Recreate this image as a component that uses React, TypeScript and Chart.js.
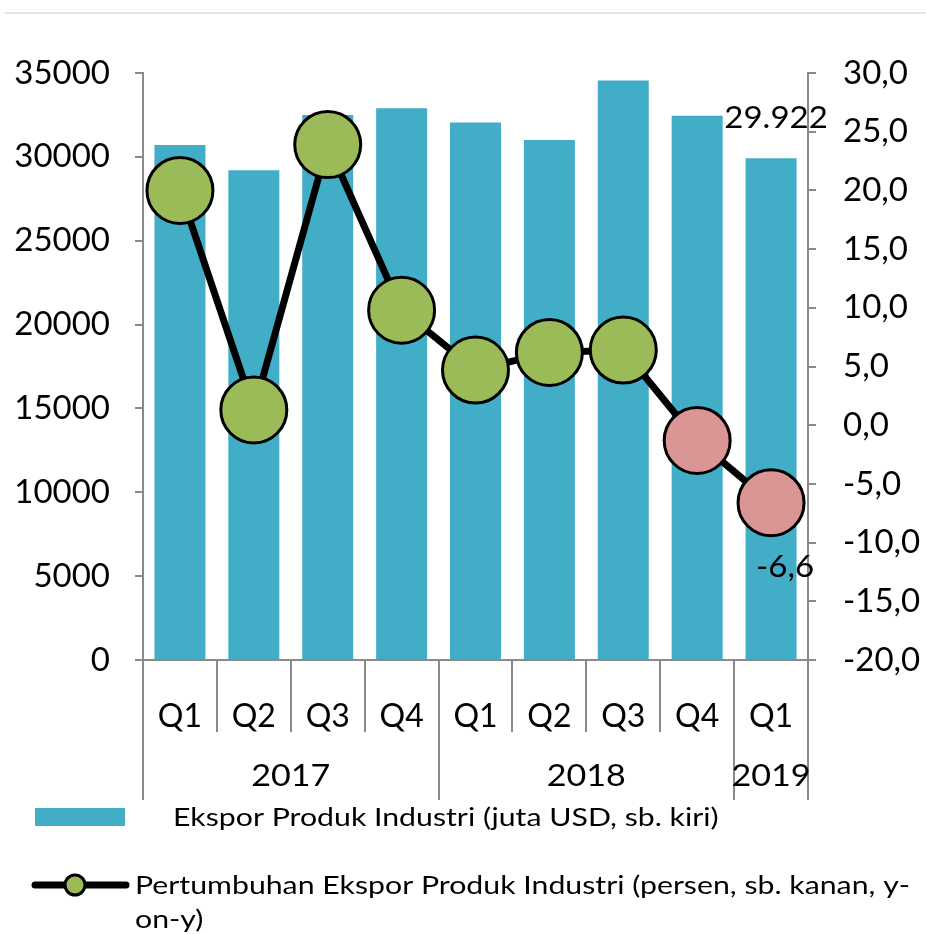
import React, { useEffect, useRef } from "react";
import { Chart, registerables } from "chart.js";

Chart.register(...registerables);

const quarters = ["Q1", "Q2", "Q3", "Q4", "Q1", "Q2", "Q3", "Q4", "Q1"];
const years = ["2017", "2018", "2019"];
const yearSpans = [4, 4, 1];
const exportValues = [30700, 29200, 32500, 32900, 32050, 31000, 34550, 32450, 29922];
const growthValues = [20.0, 1.3, 23.9, 9.8, 4.7, 6.2, 6.4, -1.3, -6.6];
const leftTicks = [0, 35000, 5000];
const rightTicks = [-20, 30, 5];
const barLabel = "29.922";
const lineLabel = "-6,6";
const barLegend = "Ekspor Produk Industri (juta USD, sb. kiri)";
const lineLegend1 = "Pertumbuhan Ekspor Produk Industri (persen, sb. kanan, y-";
const lineLegend2 = "on-y)";

const FONT = "Lato, 'Open Sans', sans-serif";
const BAR_COLOR = "#42ADC6";
const GREEN = "#9BBB59";
const PINK = "#D99694";
const AXIS = "#8a8a8a";

function drawText(ctx: any, text: string, x: number, y: number, align: string, sx: number) {
  ctx.save();
  ctx.translate(x, y);
  ctx.scale(sx, 1);
  ctx.textAlign = align;
  ctx.textBaseline = "middle";
  ctx.fillText(text, 0, 0);
  ctx.restore();
}

const customPlugin = {
  id: "custom",
  afterDraw(chart: any) {
    const ctx = chart.ctx;
    const area = chart.chartArea;
    const n = quarters.length;
    const catW = (area.right - area.left) / n;
    ctx.save();
    // top thin line
    ctx.strokeStyle = "#dcdcdc";
    ctx.lineWidth = 1.5;
    ctx.beginPath();
    ctx.moveTo(5, 13);
    ctx.lineTo(926, 13);
    ctx.stroke();

    // separators
    const yearBounds = [0];
    let acc = 0;
    yearSpans.forEach((s) => {
      acc += s;
      yearBounds.push(acc);
    });
    ctx.strokeStyle = AXIS;
    ctx.lineWidth = 2;
    for (let k = 0; k <= n; k++) {
      const px = Math.round(area.left + k * catW);
      const isYear = yearBounds.includes(k);
      ctx.beginPath();
      ctx.moveTo(px, area.bottom);
      ctx.lineTo(px, area.bottom + (isYear ? 140 : 72));
      ctx.stroke();
    }
    // year labels
    ctx.fillStyle = "#000";
    ctx.font = `31px ${FONT}`;
    years.forEach((yr, i) => {
      const a = area.left + yearBounds[i] * catW;
      const b = area.left + yearBounds[i + 1] * catW;
      drawText(ctx, yr, (a + b) / 2, area.bottom + 116, "center", 1.1);
    });

    // data labels
    const barMeta = chart.getDatasetMeta(1);
    const lineMeta = chart.getDatasetMeta(0);
    const lastBar = barMeta.data[n - 1];
    const lastPt = lineMeta.data[n - 1];
    ctx.font = `30px ${FONT}`;
    drawText(ctx, barLabel, lastBar.x + 5, lastBar.y - 40, "center", 1.1);
    drawText(ctx, lineLabel, lastPt.x + 14, lastPt.y + 65, "center", 1.1);

    // legend
    ctx.fillStyle = BAR_COLOR;
    ctx.fillRect(35, 808, 90, 18);
    ctx.fillStyle = "#000";
    ctx.font = `25px ${FONT}`;
    drawText(ctx, barLegend, 173, 818, "left", 1.21);

    ctx.strokeStyle = "#000";
    ctx.lineWidth = 7;
    ctx.lineCap = "round";
    ctx.beginPath();
    ctx.moveTo(35, 885);
    ctx.lineTo(126, 885);
    ctx.stroke();
    ctx.beginPath();
    ctx.arc(75, 885, 10, 0, Math.PI * 2);
    ctx.fillStyle = GREEN;
    ctx.fill();
    ctx.lineWidth = 3;
    ctx.stroke();
    ctx.fillStyle = "#000";
    drawText(ctx, lineLegend1, 135, 886, "left", 1.21);
    drawText(ctx, lineLegend2, 135, 920, "left", 1.21);
    ctx.restore();
  },
};

export default function App() {
  const ref = useRef<HTMLCanvasElement>(null);
  useEffect(() => {
    if (!ref.current) return;
    const chart = new Chart(ref.current, {
      type: "bar",
      data: {
        labels: quarters,
        datasets: [
          {
            type: "line",
            label: "Pertumbuhan",
            data: growthValues,
            yAxisID: "y1",
            order: 0,
            borderColor: "#000",
            borderWidth: 7,
            pointRadius: 33,
            pointHoverRadius: 33,
            pointBackgroundColor: growthValues.map((v) => (v < 0 ? PINK : GREEN)),
            pointBorderColor: "#000",
            pointBorderWidth: 3,
            tension: 0,
          } as any,
          {
            type: "bar",
            label: "Ekspor",
            data: exportValues,
            yAxisID: "y",
            order: 1,
            backgroundColor: BAR_COLOR,
            categoryPercentage: 1,
            barPercentage: 0.69,
          },
        ],
      },
      options: {
        responsive: false,
        animation: false,
        layout: { padding: { top: 73, left: 0, right: 0, bottom: 0 } },
        plugins: { legend: { display: false }, tooltip: { enabled: false } },
        scales: {
          x: {
            grid: { display: false },
            border: { display: true, color: AXIS, width: 2 },
            ticks: { color: "#000", font: { family: FONT, size: 32 }, padding: 29 },
            afterFit: (s: any) => {
              s.height = 274;
            },
          },
          y: {
            position: "left",
            min: leftTicks[0],
            max: leftTicks[1],
            grid: { drawOnChartArea: false, tickLength: 8, color: AXIS, lineWidth: 2 },
            border: { display: true, color: AXIS, width: 2 },
            ticks: {
              stepSize: leftTicks[2],
              color: "#000",
              font: { family: FONT, size: 33 },
              padding: 25,
              callback: (v: any) => String(v),
            },
            afterFit: (s: any) => {
              s.width = 143;
            },
          },
          y1: {
            position: "right",
            min: rightTicks[0],
            max: rightTicks[1],
            grid: { drawOnChartArea: false, tickLength: 8, color: AXIS, lineWidth: 2 },
            border: { display: true, color: AXIS, width: 2 },
            ticks: {
              stepSize: rightTicks[2],
              color: "#000",
              font: { family: FONT, size: 33 },
              padding: 27,
              callback: (v: any) => Number(v).toFixed(1).replace(".", ","),
            },
            afterFit: (s: any) => {
              s.width = 118;
            },
          },
        },
      } as any,
      plugins: [customPlugin],
    });
    return () => chart.destroy();
  }, []);
  return (
    <div style={{ position: "fixed", left: 0, top: 0, width: 926, height: 934, background: "#fff" }}>
      <canvas ref={ref} width={926} height={934} style={{ width: 926, height: 934 }} />
    </div>
  );
}
